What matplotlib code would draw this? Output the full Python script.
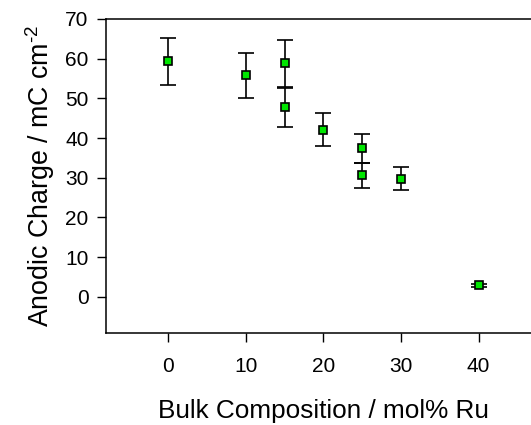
import numpy as np
import matplotlib
matplotlib.use("Agg")
import matplotlib.pyplot as plt

# data
ru_mol = [0, 10, 15, 15, 20, 25, 25, 30, 40]
charge = [59.4, 55.8, 58.9, 47.8, 42.1, 37.4, 30.6, 29.7, 2.9]
err_hi = [65.2, 61.5, 64.7, 52.5, 46.3, 41.1, 33.6, 32.7, 3.3]
err_lo = [53.4, 50.2, 52.8, 42.9, 38.0, 33.8, 27.5, 26.9, 2.5]

x_ticks = [0, 10, 20, 30, 40]
y_ticks = [0, 10, 20, 30, 40, 50, 60, 70]

plt.rcParams['font.family'] = ['Liberation Sans', 'DejaVu Sans']
plt.rcParams['mathtext.default'] = 'regular'

fig = plt.figure(figsize=(5.31, 4.25), dpi=100)
# axes runs slightly past the right edge of the figure, as in the original
ax = fig.add_axes([0.1996, 0.2165, 0.8173, 0.7388])

y = np.array(charge)
yerr = [y - np.array(err_lo), np.array(err_hi) - y]
ax.errorbar(ru_mol, charge, yerr=yerr, fmt='s', color='black', ecolor='black',
            elinewidth=1.2, capsize=6, capthick=1.2,
            markerfacecolor='#00e600', markeredgecolor='black',
            markersize=5.5, markeredgewidth=1.2, zorder=3)

ax.set_xlim(-8, 47.9)
ax.set_ylim(-9.1, 70)
ax.set_xticks(x_ticks)
ax.set_yticks(y_ticks)
ax.spines['right'].set_visible(False)
for s in ['left', 'top', 'bottom']:
    ax.spines[s].set_linewidth(1.1)
ax.tick_params(axis='both', direction='out', length=6.5, width=1.0,
               labelsize=15)
ax.tick_params(axis='x', pad=11)
ax.tick_params(axis='y', pad=6)

ax.set_xlabel('Bulk Composition / mol% Ru', fontsize=18.8, labelpad=16.5)
ax.set_ylabel('Anodic Charge / mC cm$^{\u2010 2}$', fontsize=19.3, labelpad=6)

fig.savefig('out.png', dpi=100)
